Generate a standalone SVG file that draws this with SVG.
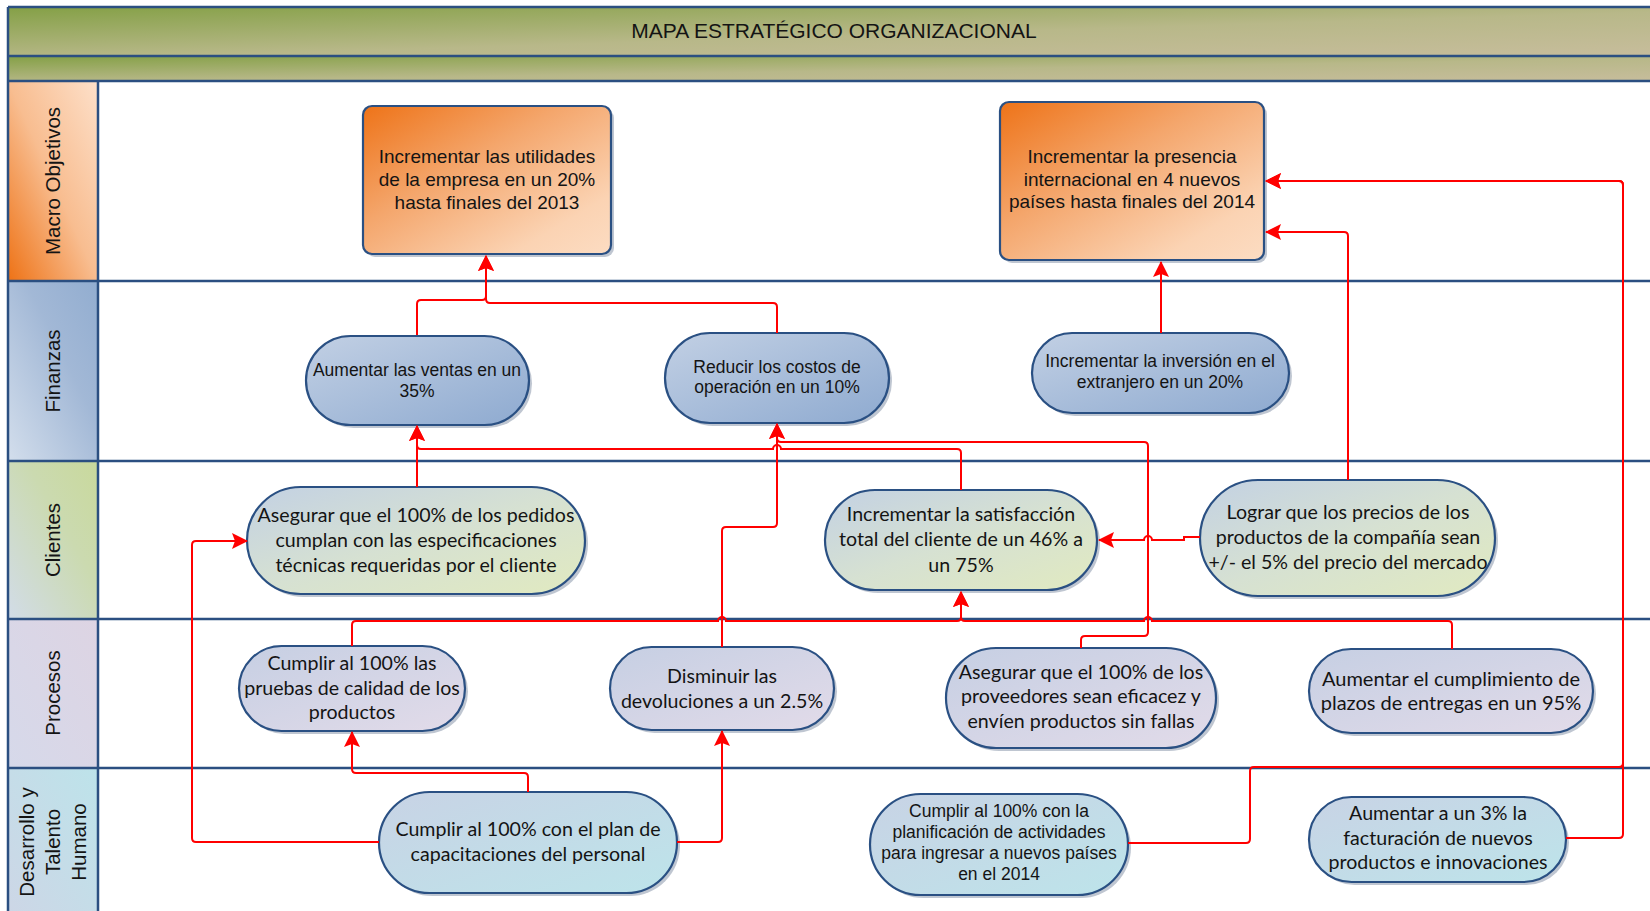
<svg xmlns="http://www.w3.org/2000/svg" width="1650" height="911" viewBox="0 0 1650 911">
<style>
.lane{stroke:#2b4f81;stroke-width:2.5;fill:none}
.node{stroke:#2a5083;stroke-width:2.2}
.sh{fill:#a9b3c2;opacity:0.75}
.ar{font-family:"Liberation Sans",Arial,sans-serif;fill:#141414;text-anchor:middle}
.ca{font-family:Lato,"Liberation Sans",sans-serif;fill:#141414;text-anchor:middle;font-size:19.6px}
.lbl{font-family:"Liberation Sans",Arial,sans-serif;font-size:20.5px;fill:#141414;text-anchor:middle}
.c{fill:none;stroke:#ff0000;stroke-width:2}
.c.a{marker-end:url(#arr)}
</style>
<defs>
<marker id="arr" markerUnits="userSpaceOnUse" markerWidth="16" markerHeight="16" refX="15" refY="8" orient="auto">
<path d="M0,0 L16,8 L0,16 L3,8 z" fill="#ff0000"/>
</marker>
<linearGradient id="hdr" x1="0" y1="0" x2="1" y2="1">
<stop offset="0" stop-color="#84a046"/><stop offset="0.55" stop-color="#b8b889"/><stop offset="1" stop-color="#c7bd9c"/>
</linearGradient>
<linearGradient id="lMac" x1="0" y1="1" x2="1" y2="0">
<stop offset="0" stop-color="#ee7215"/><stop offset="0.5" stop-color="#f8bd90"/><stop offset="1" stop-color="#fde0ca"/>
</linearGradient>
<linearGradient id="lFin" x1="0" y1="1" x2="1" y2="0">
<stop offset="0" stop-color="#d3deec"/><stop offset="0.6" stop-color="#a2b8d6"/><stop offset="1" stop-color="#92add0"/>
</linearGradient>
<linearGradient id="lCli" x1="0" y1="1" x2="1" y2="0">
<stop offset="0" stop-color="#d2dce8"/><stop offset="0.6" stop-color="#cbdab0"/><stop offset="1" stop-color="#c9d99c"/>
</linearGradient>
<linearGradient id="lPro" x1="0" y1="1" x2="1" y2="0">
<stop offset="0" stop-color="#d6d9ea"/><stop offset="1" stop-color="#ddd4e3"/>
</linearGradient>
<linearGradient id="lDes" x1="0" y1="1" x2="1" y2="0">
<stop offset="0" stop-color="#cdd6e6"/><stop offset="1" stop-color="#bde3ea"/>
</linearGradient>
<linearGradient id="gMac" x1="0" y1="0" x2="1" y2="1">
<stop offset="0" stop-color="#ee7318"/><stop offset="0.4" stop-color="#f4a66c"/><stop offset="0.8" stop-color="#fbd3b3"/><stop offset="1" stop-color="#fcdcc2"/>
</linearGradient>
<linearGradient id="gFin" x1="0" y1="0" x2="1" y2="1">
<stop offset="0" stop-color="#c2d0e4"/><stop offset="1" stop-color="#8eaad0"/>
</linearGradient>
<linearGradient id="gCli" x1="0" y1="0" x2="1" y2="1">
<stop offset="0" stop-color="#c3d1e3"/><stop offset="0.5" stop-color="#d6e1d2"/><stop offset="1" stop-color="#e1eac0"/>
</linearGradient>
<linearGradient id="gPro" x1="0" y1="0" x2="1" y2="1">
<stop offset="0" stop-color="#c6cfe3"/><stop offset="1" stop-color="#e2dbe9"/>
</linearGradient>
<linearGradient id="gDes" x1="0" y1="0" x2="1" y2="1">
<stop offset="0" stop-color="#c8d3e5"/><stop offset="1" stop-color="#bde4ea"/>
</linearGradient>
</defs>

<rect x="0" y="0" width="1650" height="911" fill="#ffffff"/>

<g id="pool">
<rect x="8" y="7" width="1650" height="49" fill="url(#hdr)"/>
<rect x="8" y="56" width="1650" height="25" fill="url(#hdr)"/>
<text class="ar" x="834" y="38" font-size="21">MAPA ESTRATÉGICO ORGANIZACIONAL</text>
</g>

<g id="lane-macro">
<rect x="8" y="81" width="90" height="200" fill="url(#lMac)"/>
<text class="lbl" transform="translate(52.5,181) rotate(-90)" y="7">Macro Objetivos</text>
</g>
<g id="lane-finanzas">
<rect x="8" y="281" width="90" height="180" fill="url(#lFin)"/>
<text class="lbl" transform="translate(52.5,371) rotate(-90)" y="7">Finanzas</text>
</g>
<g id="lane-clientes">
<rect x="8" y="461" width="90" height="158" fill="url(#lCli)"/>
<text class="lbl" transform="translate(52.5,540) rotate(-90)" y="7">Clientes</text>
</g>
<g id="lane-procesos">
<rect x="8" y="619" width="90" height="149" fill="url(#lPro)"/>
<text class="lbl" transform="translate(52.5,693) rotate(-90)" y="7">Procesos</text>
</g>
<g id="lane-desarrollo">
<rect x="8" y="768" width="90" height="150" fill="url(#lDes)"/>
<text class="lbl" transform="translate(52.5,842) rotate(-90)"><tspan x="0" y="-18.5">Desarrollo y</tspan><tspan x="0" y="7.5">Talento</tspan><tspan x="0" y="33.5">Humano</tspan></text>
</g>

<g id="lane-lines">
<path class="lane" d="M8,7 H1650 M8,56 H1650 M8,81 H1650 M8,281 H1650 M8,461 H1650 M8,619 H1650 M8,768 H1650 M8,7 V911 M98,81 V911"/>
</g>

<g id="M1">
<rect class="sh" x="366" y="109" width="248" height="148" rx="9"/>
<rect class="node" x="363" y="106" width="248" height="148" rx="9" fill="url(#gMac)"/>
<text class="ar" font-size="19"><tspan x="487" y="163">Incrementar las utilidades</tspan><tspan x="487" y="186">de la empresa en un 20%</tspan><tspan x="487" y="209">hasta finales del 2013</tspan></text>
</g>
<g id="M2">
<rect class="sh" x="1003" y="105" width="264" height="158" rx="9"/>
<rect class="node" x="1000" y="102" width="264" height="158" rx="9" fill="url(#gMac)"/>
<text class="ar" font-size="19"><tspan x="1132" y="163">Incrementar la presencia</tspan><tspan x="1132" y="186">internacional en 4 nuevos</tspan><tspan x="1132" y="208">países hasta finales del 2014</tspan></text>
</g>

<g id="F1">
<rect class="sh" x="309" y="339" width="223" height="89" rx="44.5"/>
<rect class="node" x="306" y="336" width="223" height="89" rx="44.5" fill="url(#gFin)"/>
<text class="ar" font-size="17.5"><tspan x="417" y="376">Aumentar las ventas en un</tspan><tspan x="417" y="397">35%</tspan></text>
</g>
<g id="F2">
<rect class="sh" x="668" y="336" width="224" height="90" rx="45"/>
<rect class="node" x="665" y="333" width="224" height="90" rx="45" fill="url(#gFin)"/>
<text class="ar" font-size="17.5"><tspan x="777" y="373">Reducir los costos de</tspan><tspan x="777" y="393">operación en un 10%</tspan></text>
</g>
<g id="F3">
<rect class="sh" x="1035" y="336" width="257" height="80" rx="40"/>
<rect class="node" x="1032" y="333" width="257" height="80" rx="40" fill="url(#gFin)"/>
<text class="ar" font-size="17.5"><tspan x="1160" y="367">Incrementar la inversión en el</tspan><tspan x="1160" y="388">extranjero en un 20%</tspan></text>
</g>

<g id="C1">
<rect class="sh" x="250" y="490" width="338" height="107" rx="53.5"/>
<rect class="node" x="247" y="487" width="338" height="107" rx="53.5" fill="url(#gCli)"/>
<text class="ca"><tspan x="416" y="522">Asegurar que el 100% de los pedidos</tspan><tspan x="416" y="547">cumplan con las especificaciones</tspan><tspan x="416" y="572">técnicas requeridas por el cliente</tspan></text>
</g>
<g id="C2">
<rect class="sh" x="828" y="493" width="272" height="100" rx="50"/>
<rect class="node" x="825" y="490" width="272" height="100" rx="50" fill="url(#gCli)"/>
<text class="ca"><tspan x="961" y="521">Incrementar la satisfacción</tspan><tspan x="961" y="546">total del cliente de un 46% a</tspan><tspan x="961" y="572">un 75%</tspan></text>
</g>
<g id="C3">
<rect class="sh" x="1203" y="483" width="295" height="116" rx="58"/>
<rect class="node" x="1200" y="480" width="295" height="116" rx="58" fill="url(#gCli)"/>
<text class="ca"><tspan x="1348" y="519">Lograr que los precios de los</tspan><tspan x="1348" y="544">productos de la compañía sean</tspan><tspan x="1348" y="569">+/- el 5% del precio del mercado</tspan></text>
</g>

<g id="P1">
<rect class="sh" x="242" y="649" width="226" height="85" rx="42.5"/>
<rect class="node" x="239" y="646" width="226" height="85" rx="42.5" fill="url(#gPro)"/>
<text class="ca"><tspan x="352" y="670">Cumplir al 100% las</tspan><tspan x="352" y="695">pruebas de calidad de los</tspan><tspan x="352" y="719">productos</tspan></text>
</g>
<g id="P2">
<rect class="sh" x="613" y="650" width="224" height="83" rx="41.5"/>
<rect class="node" x="610" y="647" width="224" height="83" rx="41.5" fill="url(#gPro)"/>
<text class="ca"><tspan x="722" y="683">Disminuir las</tspan><tspan x="722" y="708">devoluciones a un 2.5%</tspan></text>
</g>
<g id="P3">
<rect class="sh" x="949" y="651" width="270" height="100" rx="50"/>
<rect class="node" x="946" y="648" width="270" height="100" rx="50" fill="url(#gPro)"/>
<text class="ca"><tspan x="1081" y="679">Asegurar que el 100% de los</tspan><tspan x="1081" y="703">proveedores sean eficacez y</tspan><tspan x="1081" y="728">envíen productos sin fallas</tspan></text>
</g>
<g id="P4">
<rect class="sh" x="1312" y="652" width="284" height="84" rx="42"/>
<rect class="node" x="1309" y="649" width="284" height="84" rx="42" fill="url(#gPro)"/>
<text class="ca" style="font-size:20px"><tspan x="1451" y="686">Aumentar el cumplimiento de</tspan><tspan x="1451" y="710">plazos de entregas en un 95%</tspan></text>
</g>

<g id="D1">
<rect class="sh" x="382" y="795" width="298" height="101" rx="50.5"/>
<rect class="node" x="379" y="792" width="298" height="101" rx="50.5" fill="url(#gDes)"/>
<text class="ca"><tspan x="528" y="836">Cumplir al 100% con el plan de</tspan><tspan x="528" y="861">capacitaciones del personal</tspan></text>
</g>
<g id="D2">
<rect class="sh" x="873" y="797" width="258" height="101" rx="50.5"/>
<rect class="node" x="870" y="794" width="258" height="101" rx="50.5" fill="url(#gDes)"/>
<text class="ar" font-size="17.5"><tspan x="999" y="817">Cumplir al 100% con la</tspan><tspan x="999" y="838">planificación de actividades</tspan><tspan x="999" y="859">para ingresar a nuevos países</tspan><tspan x="999" y="880">en el 2014</tspan></text>
</g>
<g id="D3">
<rect class="sh" x="1312" y="800" width="257" height="85" rx="42.5"/>
<rect class="node" x="1309" y="797" width="257" height="85" rx="42.5" fill="url(#gDes)"/>
<text class="ca"><tspan x="1438" y="820">Aumentar a un 3% la</tspan><tspan x="1438" y="845">facturación de nuevos</tspan><tspan x="1438" y="869">productos e innovaciones</tspan></text>
</g>

<g id="connectors">
<path class="c a" d="M417,335 V304 q0,-4 4,-4 H482 q4,0 4,-4 V256"/>
<path class="c a" d="M777,333 V307 q0,-4 -4,-4 H490 q-4,0 -4,-4 V256"/>
<path class="c a" d="M1161,333 V262"/>
<path class="c a" d="M417,487 V426"/>
<path class="c a" d="M961,490 V453 q0,-4 -4,-4 H781 a4,4 0 0 0 -8,0 H421 q-4,0 -4,-4 V426"/>
<path class="c a" d="M722,647 V531 q0,-4 4,-4 H773 q4,0 4,-4 V424"/>
<path class="c a" d="M1081,648 V640 q0,-4 4,-4 H1144 q4,0 4,-4 V446 q0,-4 -4,-4 H781 q-4,0 -4,-4 V424"/>
<path class="c a" d="M1200,537 H1184 V540 H1152 a4,4 0 0 0 -8,0 H1099"/>
<path class="c a" d="M1348,480 V236 q0,-4 -4,-4 H1266"/>
<path class="c a" d="M352,646 V625 q0,-4 4,-4 H718 a4,4 0 0 1 8,0 H957 q4,0 4,-4 V592"/>
<path class="c a" d="M1452,649 V625 q0,-4 -4,-4 H1152 a4,4 0 0 0 -8,0 H965 q-4,0 -4,-4 V592"/>
<path class="c a" d="M528,792 V777 q0,-4 -4,-4 H356 q-4,0 -4,-4 V732"/>
<path class="c a" d="M677,842 H718 q4,0 4,-4 V731"/>
<path class="c a" d="M379,842 H196 q-4,0 -4,-4 V545 q0,-4 4,-4 H247"/>
<path class="c a" d="M1566,838 H1619 q4,0 4,-4 V185 q0,-4 -4,-4 H1266"/>
<path class="c a" d="M1128,843 H1246 q4,0 4,-4 V771 q0,-4 4,-4 H1619 q4,0 4,-4 V185 q0,-4 -4,-4 H1266"/>
</g>
</svg>
